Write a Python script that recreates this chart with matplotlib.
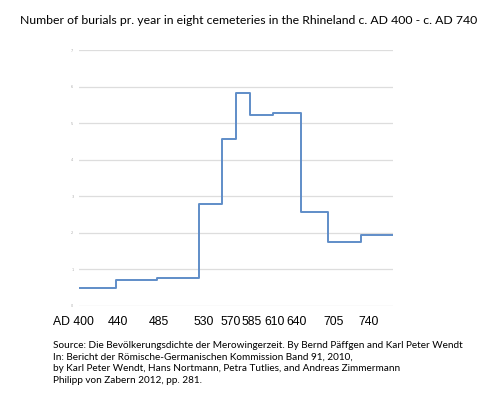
import numpy as np
import matplotlib.pyplot as plt

# period boundaries (years AD) and burials per year for each period
years = [400, 440, 485, 530, 555, 570, 585, 610, 640, 670, 705, 740]
burials = [0.48, 0.70, 0.77, 2.78, 4.57, 5.82, 5.23, 5.28, 2.56, 1.74, 1.93]
y_ticks = [0, 1, 2, 3, 4, 5, 6, 7]
x_labels = ["AD 400", "440", "485", "530", "570", "585", "610", "640", "705", "740"]

source = ("Source: Die Bevölkerungsdichte der Merowingerzeit. By Bernd Päffgen and Karl Peter Wendt\n"
          "In: Bericht der Römische-Germanischen Kommission Band 91, 2010,\n"
          "by Karl Peter Wendt, Hans Nortmann, Petra Tutlies, and Andreas Zimmermann\n"
          "Philipp von Zabern 2012, pp. 281.")

fig = plt.figure(figsize=(5, 4.11), dpi=100)
ax = fig.add_axes([0.158, 0.256, 0.628, 0.622])

vals = burials + [burials[-1]]
ax.step(years, vals, where="post", color="#5f8dc8", lw=1.4, zorder=3)

ax.set_xlim(years[0], years[-1])
ax.set_ylim(0, 7)
ax.set_yticks(y_ticks)
ax.set_yticklabels([str(t) for t in y_ticks], fontsize=2.5, color="#aaaaaa")
ax.tick_params(axis="y", length=0, pad=4)
ax.set_xticks([])
ax.grid(True, axis="y", color="#dddddd", lw=0.9)
for s in ax.spines.values():
    s.set_visible(False)

fig.text(0.497, 1 - 20 / 411, "Number of burials pr. year in eight cemeteries in the Rhineland c. AD 400 - c. AD 740",
         ha="center", va="center", fontsize=8.85, family="Lato")

# hand placed year labels below the plot
label_x = [73, 117.5, 159, 204, 231, 252, 275, 297, 334, 369]
for lab, px in zip(x_labels, label_x):
    fig.text(px / 500, 1 - 322 / 411, lab, ha="center", va="center",
             fontsize=8.8, family="Liberation Sans")

fig.text(53 / 500, 1 - 341 / 411, source, ha="left", va="top", fontsize=7.2,
         family="Lato", linespacing=1.38)

plt.savefig("out.png")
